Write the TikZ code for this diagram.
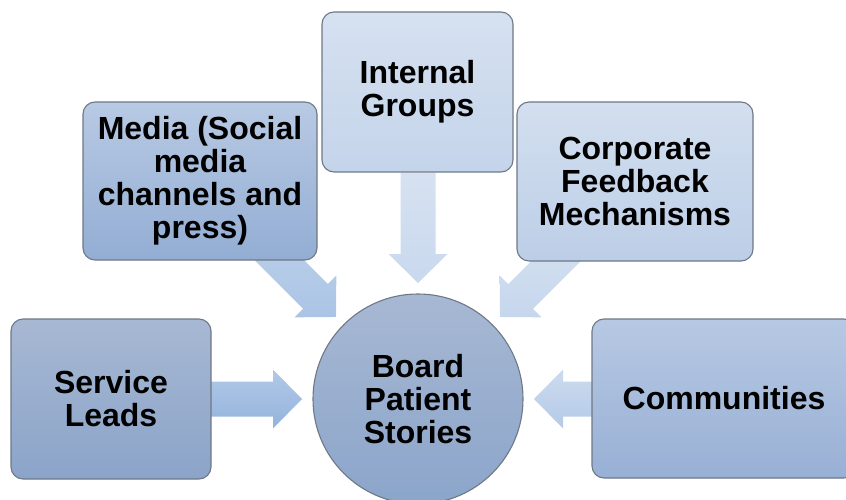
\documentclass[tikz,border=0pt]{standalone}
\usepackage{fontspec}
\setmainfont{Liberation Sans}
\usepackage{xcolor}
\usepackage{tikz}
\usetikzlibrary{shapes,positioning}

\definecolor{edgegray}{HTML}{6E7886}
\definecolor{hubtop}{HTML}{A7B8D3}
\definecolor{hubbot}{HTML}{8BA5CA}

\begin{document}
\begin{tikzpicture}[x=1pt,y=1pt,
  box/.style={draw=edgegray,line width=1.1pt,rounded corners=12pt,inner sep=0pt,
    align=center,font=\fontsize{32}{33}\selectfont\bfseries},
  hub/.style={circle,draw=edgegray,line width=1.1pt,minimum size=210pt,inner sep=0pt,
    align=center,top color=hubtop,bottom color=hubbot,font=\fontsize{32}{33}\selectfont\bfseries}]
\useasboundingbox (0,0) rectangle (846,499);

% Centre circle
\node[hub] (hub) at (418,100) {Board\\Patient\\Stories};

% Block arrows into the circle (angle/top colour/bottom colour)
\foreach \ang/\ctop/\cbot in {180/B2C9E7/93B3DD, 135/BCD1EA/ABC4E5, 90/D6E2F1/C9D8EE,
                              45/D6E2F1/C6D6EC, 0/CCDBEF/B5CAE7}{
  \definecolor{arrtop}{HTML}{\ctop}
  \definecolor{arrbot}{HTML}{\cbot}
  \shade[top color=arrtop,bottom color=arrbot,shift={(hub.center)},rotate=\ang]
    (116,0) -- (145,29.5) -- (145,17.5) -- (226,17.5) -- (226,-17.5)
    -- (145,-17.5) -- (145,-29.5) -- cycle;
}

% Source boxes
\node[box,minimum width=200pt,minimum height=160pt,
  top color={rgb,255:red,167;green,184;blue,211},bottom color={rgb,255:red,139;green,164;blue,201}]
  (leads) at (111,100) {Service\\Leads};
\node[box,minimum width=234pt,minimum height=158pt,
  top color={rgb,255:red,184;green,202;blue,228},bottom color={rgb,255:red,147;green,173;blue,211}]
  (media) at (200,318) {Media (Social\\media\\channels and\\press)};
\node[box,minimum width=191pt,minimum height=160pt,
  top color={rgb,255:red,214;green,225;blue,240},bottom color={rgb,255:red,196;green,212;blue,234}]
  (internal) at (417.5,407) {Internal\\Groups};
\node[box,minimum width=236pt,minimum height=159pt,
  top color={rgb,255:red,211;green,223;blue,239},bottom color={rgb,255:red,188;green,206;blue,231}]
  (corporate) at (635,317.5) {Corporate\\Feedback\\Mechanisms};
\node[box,minimum width=264pt,minimum height=159pt,
  top color={rgb,255:red,183;green,200;blue,227},bottom color={rgb,255:red,152;green,176;blue,213}]
  (communities) at (724,100.5) {Communities};
\end{tikzpicture}
\end{document}
